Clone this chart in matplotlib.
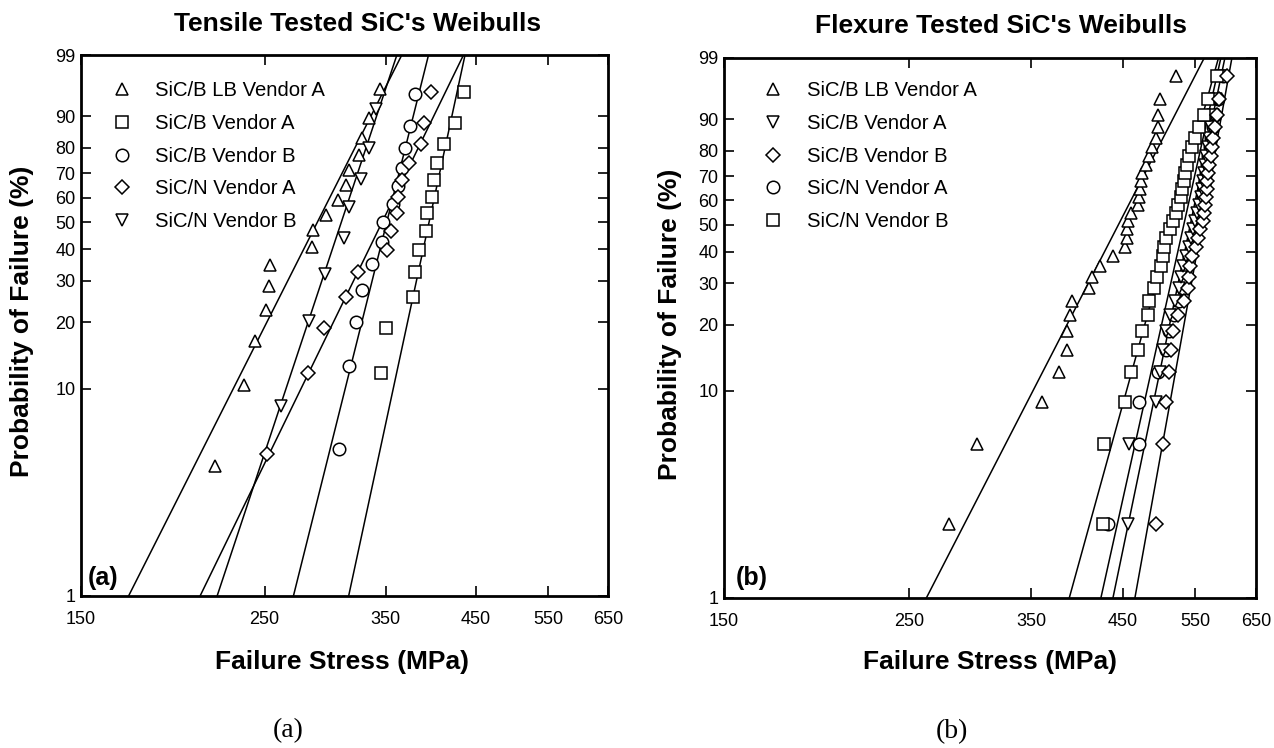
import numpy as np
import matplotlib
matplotlib.use("Agg")
import matplotlib.pyplot as plt
from matplotlib.ticker import FixedLocator, FixedFormatter, NullLocator

plt.rcParams['font.family'] = ['Liberation Sans', 'DejaVu Sans']

# ---------------- data : (a) tensile tested ----------------
tens_labels = ["SiC/B LB Vendor A", "SiC/B Vendor A", "SiC/B Vendor B",
               "SiC/N Vendor A", "SiC/N Vendor B"]
tens_markers = ['^', 's', 'o', 'D', 'v']

# probability of failure (%) and failure stress (MPa)
tens_lbA_P = [4.3, 10.4, 16.5, 22.6, 28.7, 34.8, 40.9, 47.0, 53.0, 59.1, 65.2, 71.3, 77.4, 83.5, 89.6, 95.7]
tens_lbA_S = [217.8, 235.9, 243.4, 251.0, 253.4, 253.6, 285.2, 286.4, 296.3, 306.7, 313.6, 316.2, 325.1, 328.2, 334.7, 344.3]

tens_BA_P = [11.8, 18.8, 25.7, 32.6, 39.6, 46.5, 53.5, 60.4, 67.4, 74.3, 81.3, 88.2, 95.1]
tens_BA_S = [345.4, 350.3, 378.0, 380.3, 384.7, 391.5, 392.3, 398.1, 400.0, 403.4, 411.3, 424.7, 435.8]

tens_BB_P = [5.2, 12.7, 20.1, 27.6, 35.1, 42.5, 50.0, 57.5, 64.9, 72.4, 79.9, 87.3, 94.8]
tens_BB_S = [307.8, 316.2, 322.2, 327.8, 337.4, 347.0, 348.0, 357.8, 361.9, 366.4, 370.0, 374.9, 380.4]

tens_NA_P = [4.9, 11.8, 18.8, 25.7, 32.6, 39.6, 46.5, 53.5, 60.4, 67.4, 74.3, 81.3, 88.2, 95.1]
tens_NA_S = [251.9, 281.9, 294.8, 313.6, 323.8, 351.4, 355.7, 361.1, 362.4, 366.4, 373.6, 386.3, 389.9, 397.2]

tens_NB_P = [8.3, 20.2, 32.1, 44.0, 56.0, 67.9, 79.8, 91.7]
tens_NB_S = [261.5, 283.2, 295.4, 311.8, 316.2, 327.1, 334.7, 340.4]

# Weibull fit lines: modulus m and characteristic strength s0 (MPa)
tens_fit_m = [8.06, 18.92, 16.3, 8.36, 12.25]
tens_fit_s0 = [303.0, 402.8, 359.2, 362.2, 318.9]

# ---------------- data : (b) flexure tested ----------------
flex_labels = ["SiC/B LB Vendor A", "SiC/B Vendor A", "SiC/B Vendor B",
               "SiC/N Vendor A", "SiC/N Vendor B"]
flex_markers = ['^', 'v', 'D', 'o', 's']

flex_P = [2.3, 5.6, 8.9, 12.2, 15.5, 18.8, 22.0, 25.3, 28.6, 31.9, 35.2, 38.5, 41.8, 45.1, 48.4,
          51.6, 54.9, 58.2, 61.5, 64.8, 68.1, 71.4, 74.7, 78.0, 81.3, 84.5, 87.8, 91.1, 94.4, 97.7]

flex_lbA_S = [279.1, 301.5, 360.0, 377.7, 386.0, 386.4, 389.3, 391.1, 410.6, 413.3, 422.9, 438.6, 453.6, 455.0, 455.6,
              456.2, 460.7, 470.0, 471.0, 472.0, 474.0, 474.8, 480.0, 483.9, 488.1, 493.5, 495.5, 496.3, 499.2, 521.8]
flex_BA_S = [456.8, 458.0, 493.4, 498.9, 503.0, 507.2, 512.8, 520.0, 525.7, 528.6, 531.6, 536.0, 540.4, 543.4, 546.4,
             549.4, 552.5, 555.5, 557.8, 559.4, 561.7, 563.2, 564.8, 567.1, 569.5, 571.8, 574.2, 577.4, 582.2, 589.5]
flex_BB_S = [493.4, 503.6, 507.2, 511.4, 514.2, 517.1, 524.3, 533.0, 538.9, 540.4, 541.9, 544.9, 550.9, 554.0, 557.0,
             560.9, 563.2, 564.8, 567.1, 567.5, 567.9, 569.5, 571.0, 573.4, 575.0, 576.6, 579.8, 583.0, 587.0, 600.1]
flex_NA_S = [432.7, 470.9, 471.2, 496.1, 507.5, 511.4, 518.5, 525.7, 531.6, 534.5, 537.5, 540.4, 544.9, 548.0, 550.9,
             554.0, 557.0, 559.4, 561.7, 563.2, 564.8, 566.3, 567.9, 570.2, 572.6, 574.2, 577.4, 580.6, 585.4, 593.5]
flex_NB_S = [426.7, 428.1, 452.4, 460.6, 469.5, 474.7, 483.3, 484.0, 490.7, 494.8, 500.3, 503.0, 505.1, 507.2, 512.8,
             517.1, 521.4, 524.3, 528.6, 530.1, 532.3, 534.5, 537.5, 540.4, 544.9, 549.4, 555.5, 562.5, 569.5, 583.0]

flex_fit_m = [8.0, 19.86, 22.92, 18.53, 14.9]
flex_fit_s0 = [465.6, 552.4, 569.0, 543.3, 529.0]

x_ticks = [150, 250, 350, 450, 550, 650]
y_ticks = [1, 10, 20, 30, 40, 50, 60, 70, 80, 90, 99]


# ---------------- helpers ----------------
def w_fwd(p):
    p = np.clip(np.asarray(p, dtype=float), 1e-6, 100 - 1e-6)
    return np.log(-np.log(1.0 - p / 100.0))


def w_inv(w):
    w = np.asarray(w, dtype=float)
    return 100.0 * (1.0 - np.exp(-np.exp(w)))


def fit_curve(m, s0):
    P = np.array([1.0, 99.0])
    S = s0 * (-np.log(1.0 - P / 100.0)) ** (1.0 / m)
    return S, P


def setup(ax):
    ax.set_xscale('log')
    ax.set_yscale('function', functions=(w_fwd, w_inv))
    ax.set_xlim(150, 650)
    ax.set_ylim(1, 99)
    ax.xaxis.set_major_locator(FixedLocator(x_ticks))
    ax.xaxis.set_major_formatter(FixedFormatter([str(t) for t in x_ticks]))
    ax.xaxis.set_minor_locator(NullLocator())
    ax.yaxis.set_major_locator(FixedLocator(y_ticks))
    ax.yaxis.set_major_formatter(FixedFormatter([str(t) for t in y_ticks]))
    ax.yaxis.set_minor_locator(NullLocator())
    ax.tick_params(direction='in', top=True, right=True, length=7, width=1.2,
                   labelsize=13)
    ax.tick_params(axis='x', pad=11)
    ax.tick_params(axis='y', pad=4)
    for sp in ax.spines.values():
        sp.set_linewidth(2.0)


def draw_panel(ax, series, fits, markers, labels, zorders):
    for (m, s0) in fits:
        S, P = fit_curve(m, s0)
        ax.plot(S, P, color='black', lw=1.1, zorder=2)
    handles = []
    for (S, P), mk, lab, zo in zip(series, markers, labels, zorders):
        ms = {'^': 9, 'v': 9, 's': 8.5, 'o': 9, 'D': 7}[mk]
        h, = ax.plot(S, P, ls='none', marker=mk, ms=ms, mfc='white',
                     mec='black', mew=1.1, label=lab, zorder=zo)
        handles.append(h)
    return handles


LEG_FS = 14.6
LAB_FS = 19

fig = plt.figure(figsize=(12.74, 7.48), dpi=100)
axL = fig.add_axes([81 / 1274, (748 - 596) / 748, 527 / 1274, 541 / 748])
axR = fig.add_axes([724 / 1274, (748 - 598) / 748, 532 / 1274, 540 / 748])

# ---- panel (a)
setup(axL)
tens_series = [(tens_lbA_S, tens_lbA_P), (tens_BA_S, tens_BA_P), (tens_BB_S, tens_BB_P),
               (tens_NA_S, tens_NA_P), (tens_NB_S, tens_NB_P)]
hL = draw_panel(axL, tens_series, list(zip(tens_fit_m, tens_fit_s0)),
                tens_markers, tens_labels, [4, 4, 4, 4, 4])
axL.legend(handles=hL, loc='upper left', bbox_to_anchor=(0.0578, 0.9514),
           frameon=False, fontsize=LEG_FS, handlelength=1.0, handletextpad=1.145,
           labelspacing=0.675, borderpad=0, borderaxespad=0)
axL.text(0.524, 1.057, "Tensile Tested SiC's Weibulls", transform=axL.transAxes,
         ha='center', va='center', fontsize=LAB_FS, fontweight='bold')
axL.set_xlabel("Failure Stress (MPa)", fontsize=LAB_FS, fontweight='bold', va='center')
axL.set_ylabel("Probability of Failure (%)", fontsize=LAB_FS, fontweight='bold', va='center')
axL.xaxis.set_label_coords(0.496, -0.122)
axL.yaxis.set_label_coords(-0.112, 0.507)
axL.text(0.013, 0.033, "(a)", transform=axL.transAxes, ha='left', va='center',
         fontsize=18, fontweight='bold')

# ---- panel (b)
setup(axR)
flex_series = [(flex_lbA_S, flex_P), (flex_BA_S, flex_P), (flex_BB_S, flex_P),
               (flex_NA_S, flex_P), (flex_NB_S, flex_P)]
hR = draw_panel(axR, flex_series, list(zip(flex_fit_m, flex_fit_s0)),
                flex_markers, flex_labels, [7, 4, 6, 3, 5])
axR.legend(handles=hR, loc='upper left', bbox_to_anchor=(0.073, 0.9569),
           frameon=False, fontsize=LEG_FS, handlelength=1.0, handletextpad=1.19,
           labelspacing=0.675, borderpad=0, borderaxespad=0)
axR.text(0.521, 1.059, "Flexure Tested SiC's Weibulls", transform=axR.transAxes,
         ha='center', va='center', fontsize=LAB_FS, fontweight='bold')
axR.set_xlabel("Failure Stress (MPa)", fontsize=LAB_FS, fontweight='bold', va='center')
axR.set_ylabel("Probability of Failure (%)", fontsize=LAB_FS, fontweight='bold', va='center')
axR.xaxis.set_label_coords(0.5, -0.1185)
axR.yaxis.set_label_coords(-0.1015, 0.507)
axR.text(0.022, 0.037, "(b)", transform=axR.transAxes, ha='left', va='center',
         fontsize=18, fontweight='bold')

# ---- captions below the panels
fig.text(288 / 1274, 1 - 731 / 748, "(a)", ha='center', va='center', fontsize=20,
         family='Liberation Serif')
fig.text(952 / 1274, 1 - 732 / 748, "(b)", ha='center', va='center', fontsize=20,
         family='Liberation Serif')

fig.savefig("out.png", dpi=100, facecolor='white')
